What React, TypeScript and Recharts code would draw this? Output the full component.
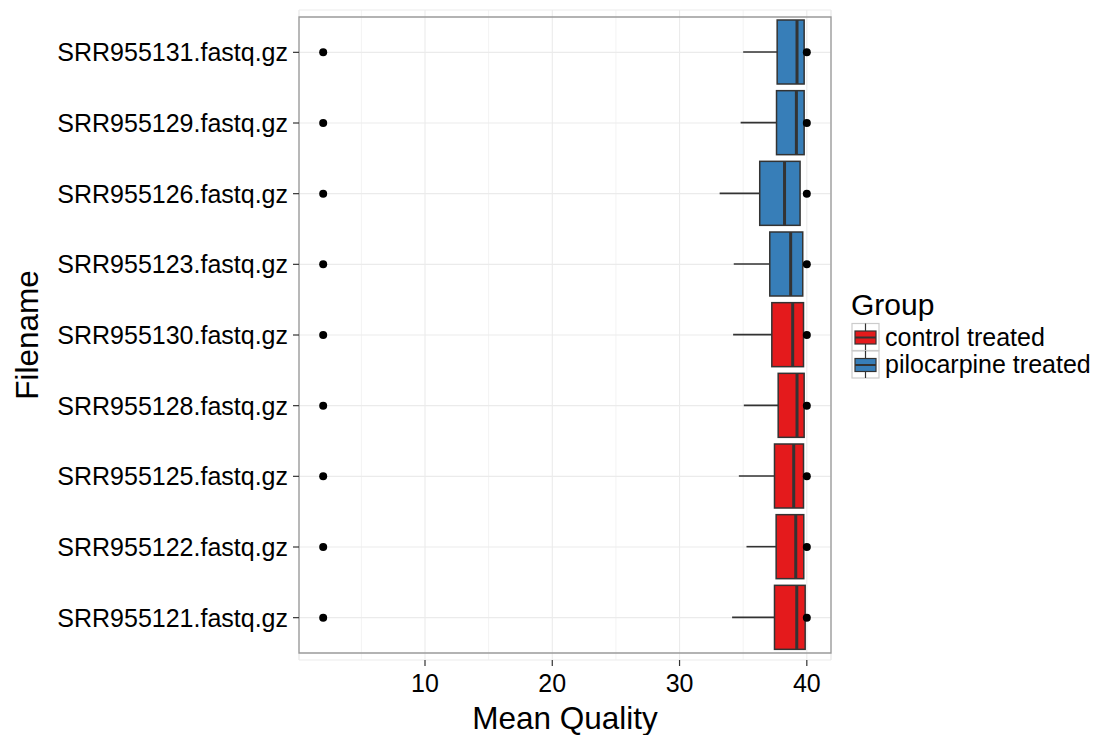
import React from 'react';
import {
  ComposedChart,
  Bar,
  Scatter,
  XAxis,
  YAxis,
  CartesianGrid,
  ReferenceArea,
  Legend,
  Label,
} from 'recharts';

// ---- data (top row first) ----
const filenames = [
  'SRR955131.fastq.gz',
  'SRR955129.fastq.gz',
  'SRR955126.fastq.gz',
  'SRR955123.fastq.gz',
  'SRR955130.fastq.gz',
  'SRR955128.fastq.gz',
  'SRR955125.fastq.gz',
  'SRR955122.fastq.gz',
  'SRR955121.fastq.gz',
];
const groups = [
  'pilocarpine treated',
  'pilocarpine treated',
  'pilocarpine treated',
  'pilocarpine treated',
  'control treated',
  'control treated',
  'control treated',
  'control treated',
  'control treated',
];
const whiskerLow = [35.0, 34.8, 33.15, 34.26, 34.21, 35.05, 34.66, 35.26, 34.13];
const q1 = [37.67, 37.62, 36.3, 37.09, 37.25, 37.75, 37.46, 37.59, 37.46];
const median = [39.23, 39.18, 38.25, 38.73, 38.89, 39.23, 38.97, 39.13, 39.21];
const q3 = [39.79, 39.79, 39.47, 39.68, 39.74, 39.79, 39.74, 39.76, 39.87];
const outlierLow = [2, 2, 2, 2, 2, 2, 2, 2, 2];
const outlierHigh = [40, 40, 40, 40, 40, 40, 40, 40, 40];

const groupNames = ['control treated', 'pilocarpine treated'];
const groupColors = ['#E41A1C', '#377EB8'];
const xTicks = [10, 20, 30, 40];
const minorTicks = [5, 15, 25, 35];
const xDomain = [0.1, 41.9];

const data = filenames.map((name, i) => ({
  name,
  group: groups[i],
  lo: whiskerLow[i],
  q1: q1[i],
  med: median[i],
  q3: q3[i],
  outLo: outlierLow[i],
  outHi: outlierHigh[i],
}));

const FONT = '"Liberation Sans", Arial, Helvetica, sans-serif';
const LINE = '#333333';

const BoxShape = (props: any) => {
  const { x, y, width, height } = props;
  const p = props.payload || props;
  const k = width / (p.q3 - p.q1);
  const medX = x + (p.med - p.q1) * k;
  const loX = x - (p.q1 - p.lo) * k;
  const cy = y + height / 2;
  const color = groupColors[groupNames.indexOf(p.group)];
  return (
    <g>
      <line x1={loX} y1={cy} x2={x} y2={cy} stroke={LINE} strokeWidth={1.6} />
      <rect x={x} y={y} width={width} height={height} fill={color} stroke={LINE} strokeWidth={1.5} />
      <line x1={medX} y1={y} x2={medX} y2={y + height} stroke={LINE} strokeWidth={3} />
    </g>
  );
};

const DotShape = (props: any) => {
  const { cx, cy } = props;
  return <circle cx={cx} cy={cy} r={4} fill="#000" />;
};

const LegendContent = () => (
  <svg width={250} height={100} style={{ overflow: 'visible', display: 'block' }}>
    <text x={6} y={30} fontSize={30} fontFamily={FONT} fill="#000">
      Group
    </text>
    {groupNames.map((g, i) => {
      const top = 38.5 + i * 27.5;
      return (
        <g key={g}>
          <rect x={7} y={top} width={27} height={27} fill="#fff" stroke="#cccccc" strokeWidth={1.2} />
          <line x1={20.5} y1={top} x2={20.5} y2={top + 27} stroke={LINE} strokeWidth={1.2} />
          <rect x={10} y={top + 7.5} width={21} height={13} fill={groupColors[i]} stroke={LINE} strokeWidth={1.2} />
          <line x1={10} y1={top + 14} x2={31} y2={top + 14} stroke={LINE} strokeWidth={2} />
          <text x={40} y={top + 22} fontSize={25} fontFamily={FONT} fill="#000">
            {g}
          </text>
        </g>
      );
    })}
  </svg>
);

const YTitle = (props: any) => {
  const vb = props.viewBox || {};
  const cx = vb.x + 38;
  const cy = vb.y + vb.height / 2;
  return (
    <text
      x={cx}
      y={cy}
      transform={`rotate(-90, ${cx}, ${cy})`}
      textAnchor="middle"
      fontSize={31.5}
      fontFamily={FONT}
      fill="#000"
    >
      Filename
    </text>
  );
};

const XTitle = (props: any) => {
  const vb = props.viewBox || {};
  return (
    <text
      x={vb.x + vb.width / 2}
      y={vb.y + 69}
      textAnchor="middle"
      fontSize={31.5}
      fontFamily={FONT}
      fill="#000"
    >
      Mean Quality
    </text>
  );
};

export default function App() {
  return (
    <div
      style={{
        position: 'absolute',
        left: 0,
        top: 0,
        width: 1097,
        height: 735,
        background: '#fff',
        fontFamily: FONT,
      }}
    >
      <ComposedChart
        width={1097}
        height={735}
        data={data}
        layout="vertical"
        margin={{ top: 10, right: 266, bottom: 0, left: 0 }}
      >
        <CartesianGrid xAxisId="minor" horizontal={false} stroke="#f3f3f3" strokeWidth={1} />
        <CartesianGrid stroke="#ebebeb" strokeWidth={1.1} />
        <XAxis
          xAxisId="minor"
          type="number"
          domain={xDomain}
          ticks={minorTicks}
          allowDataOverflow
          hide
        />
        <XAxis
          type="number"
          domain={xDomain}
          ticks={xTicks}
          allowDataOverflow
          axisLine={false}
          tickLine={{ stroke: LINE, strokeWidth: 1.2 }}
          tickSize={6}
          tickMargin={8}
          tick={{ fontSize: 25, fill: '#000', fontFamily: FONT }}
          height={75}
        >
          <Label content={XTitle} />
        </XAxis>
        <YAxis
          type="category"
          dataKey="name"
          width={299}
          axisLine={false}
          tickLine={{ stroke: LINE, strokeWidth: 1.2 }}
          tickSize={6}
          tickMargin={5}
          padding={{ top: 7, bottom: 7 }}
          tick={{ fontSize: 25, fill: '#000', fontFamily: FONT }}
          interval={0}
        >
          <Label content={YTitle} />
        </YAxis>
        <Bar
          dataKey={(d: any) => [d.q1, d.q3]}
          barSize={64}
          shape={BoxShape}
          isAnimationActive={false}
        />
        <Scatter dataKey="outLo" shape={DotShape} isAnimationActive={false} />
        <Scatter dataKey="outHi" shape={DotShape} isAnimationActive={false} />
        <ReferenceArea
          x1={xDomain[0]}
          x2={xDomain[1]}
          fill="none"
          fillOpacity={0}
          stroke="#9a9a9a"
          strokeWidth={1.3}
          ifOverflow="visible"
        />
        <Legend
          layout="horizontal"
          verticalAlign="middle"
          align="center"
          content={LegendContent}
          wrapperStyle={{ position: 'absolute', left: 845, top: 285, width: 250, height: 100 }}
        />
      </ComposedChart>
    </div>
  );
}
